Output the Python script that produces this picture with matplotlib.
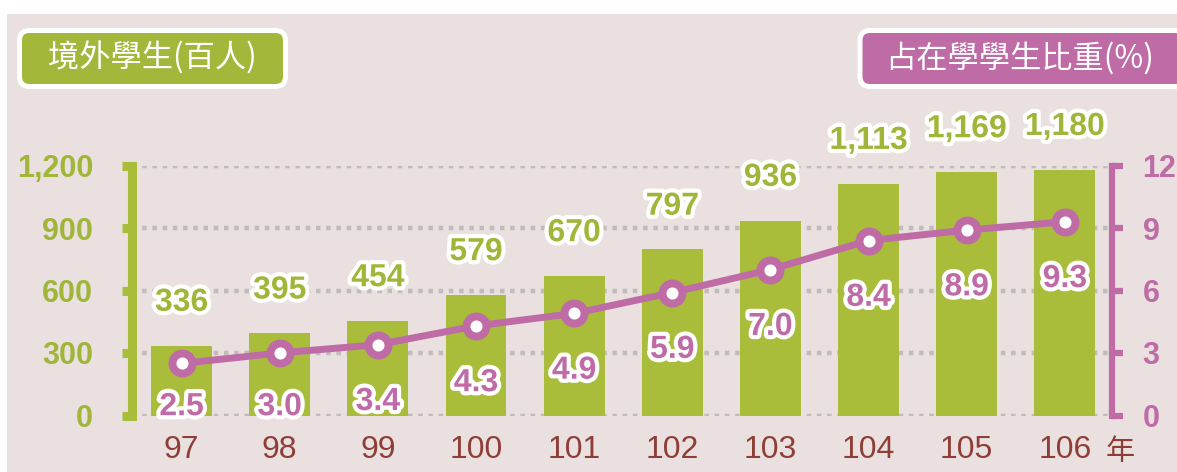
import matplotlib
matplotlib.use('Agg')
import matplotlib.pyplot as plt
import matplotlib.patheffects as pe
from matplotlib.patches import Rectangle, FancyBboxPatch
import numpy as np

# 資料
years = ['97', '98', '99', '100', '101', '102', '103', '104', '105', '106']
students = [336, 395, 454, 579, 670, 797, 936, 1113, 1169, 1180]   # 百人
share = [2.5, 3.0, 3.4, 4.3, 4.9, 5.9, 7.0, 8.4, 8.9, 9.3]         # %
left_ticks = [0, 300, 600, 900, 1200]
right_ticks = [0, 3, 6, 9, 12]

BG = '#E9E0DF'
BAR = '#A9BD3A'
GREEN_TXT = '#A0B639'
GREEN_BOX = '#A3B83B'
PURPLE = '#BE6BA6'
BROWN = '#8E3E36'
CJK = ['Noto Sans CJK TC', 'DejaVu Sans']

plt.rcParams['font.family'] = ['Liberation Sans', 'Noto Sans CJK TC', 'DejaVu Sans']

fig = plt.figure(figsize=(11.77, 4.72), dpi=100)
fig.patch.set_facecolor('white')
fig.add_artist(Rectangle((7 / 1177, 0), 1, 1 - 14 / 472, transform=fig.transFigure,
                         facecolor=BG, edgecolor='none', zorder=-10))

ax = fig.add_axes([132 / 1177, (472 - 415.5) / 472, 980 / 1177, 250 / 472])
ax.patch.set_visible(False)
x = np.arange(len(years))

# 長條
ax.bar(x, students, width=0.62, color=BAR, zorder=2)
ax.set_xlim(-0.505, 9.48)
ax.set_ylim(0, 1200)
ax.set_yticks(left_ticks)
ax.set_yticklabels([f'{v:,}' for v in left_ticks])
ax.set_xticks(x, years)
ax.yaxis.grid(True, color='#BFBCBB', lw=3.2, linestyle=(0, (1, 1.3)), zorder=1)
ax.set_axisbelow(True)
for s in ['top', 'bottom', 'right']:
    ax.spines[s].set_visible(False)
ax.spines['left'].set_color(BAR)
ax.spines['left'].set_linewidth(6.5)
ax.tick_params(axis='y', color=BAR, labelcolor=GREEN_TXT, length=7, width=6.5,
               pad=21, labelsize=22)
for lbl in ax.get_yticklabels():
    lbl.set_fontweight('bold')
ax.tick_params(axis='x', length=0, pad=14, labelsize=23, labelcolor=BROWN)

stroke = [pe.withStroke(linewidth=6, foreground='white')]
for xi, v in zip(x, students):
    ax.text(xi, v + 205, f'{v:,}', ha='center', va='center', fontsize=23,
            fontweight='bold', color=GREEN_TXT, path_effects=stroke, zorder=5)

# 折線
ax2 = ax.twinx()
ax2.patch.set_visible(False)
ax2.set_ylim(0, 12)
ax2.set_yticks(right_ticks)
ax2.plot(x, share, color=PURPLE, lw=5, marker='o', ms=14.4, mfc='white',
         mec=PURPLE, mew=5.7, zorder=3, clip_on=False)
for s in ['top', 'bottom', 'left']:
    ax2.spines[s].set_visible(False)
ax2.spines['right'].set_color(PURPLE)
ax2.spines['right'].set_linewidth(4.5)
ax2.tick_params(axis='y', color=PURPLE, labelcolor=PURPLE, length=8, width=4.5,
                pad=14, labelsize=22)
for lbl in ax2.get_yticklabels():
    lbl.set_fontweight('bold')

for xi, v in zip(x, share):
    ax2.text(xi, max(v - 2.75, 0.4), f'{v:.1f}', ha='center', va='center', fontsize=23,
             fontweight='bold', color=PURPLE, path_effects=stroke, zorder=5)

# 標題框
def title_box(x0, x1, color, label, cx):
    box = FancyBboxPatch((x0 / 100, (472 - 86.5) / 100), (x1 - x0) / 100, 56 / 100,
                         boxstyle='round,pad=0,rounding_size=0.1',
                         transform=fig.dpi_scale_trans, facecolor=color,
                         edgecolor='white', lw=3.6, zorder=5)
    fig.add_artist(box)
    fig.text(cx / 1177, 1 - 58 / 472, label, ha='center', va='center', fontsize=22.5,
             color='white', family=CJK, zorder=6)

title_box(19.5, 285.5, GREEN_BOX, '境外學生(百人)', 152)
title_box(860, 1185, PURPLE, '占在學學生比重(%)', 1020)

fig.text(1120 / 1177, 1 - 452 / 472, '年', ha='center', va='center', fontsize=21,
         color=BROWN, family=CJK)

fig.savefig('out.png', dpi=100, facecolor='white')
